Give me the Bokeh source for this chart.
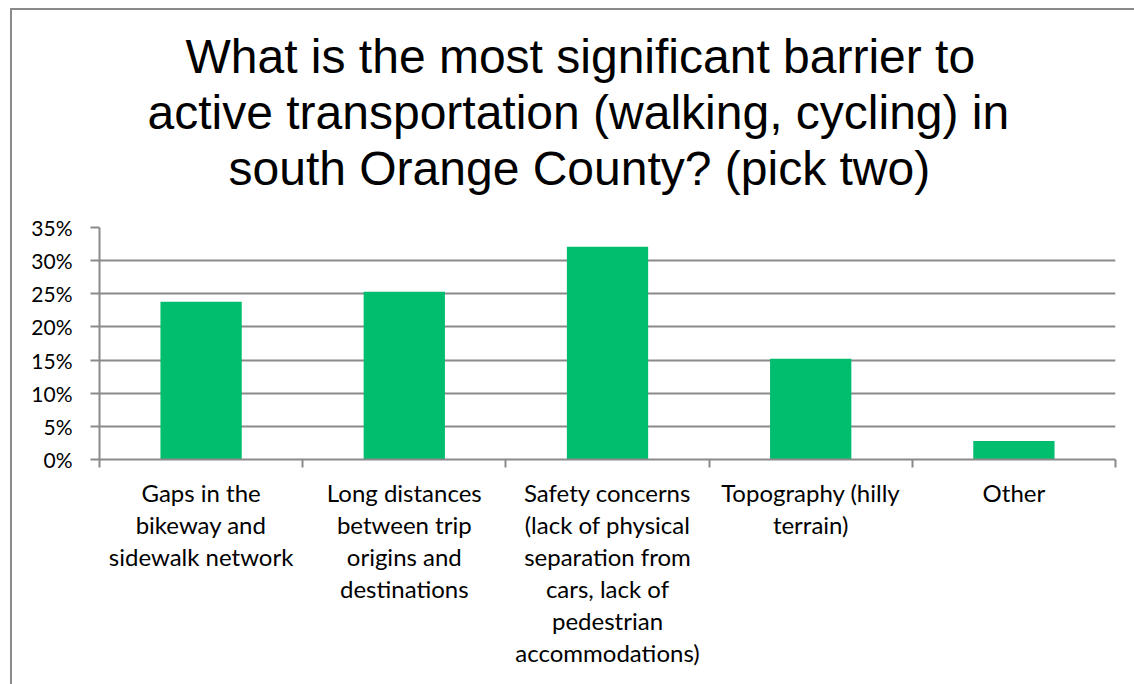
from bokeh.plotting import figure
from bokeh.models import Range1d, FixedTicker, NumeralTickFormatter, Title
from bokeh.embed import file_html
from bokeh.resources import INLINE

# ---- data ----
categories = [
    "Gaps in the\nbikeway and\nsidewalk network",
    "Long distances\nbetween trip\norigins and\ndestinations",
    "Safety concerns\n(lack of physical\nseparation from\ncars, lack of\npedestrian\naccommodations)",
    "Topography (hilly\nterrain)",
    "Other",
]
values = [0.238, 0.253, 0.321, 0.152, 0.028]
y_ticks = [0, 0.05, 0.10, 0.15, 0.20, 0.25, 0.30, 0.35]
title_lines = [
    "What is the most significant barrier to",
    "active transportation (walking, cycling) in",
    "south Orange County? (pick two)",
]

GREEN = "#00BE6E"
GRAY = "#8a8a8a"
LABEL_FONT = "Lato"

W, H = 1134, 676
p = figure(width=W, height=H, output_backend="svg", toolbar_location=None,
           x_range=Range1d(0.5, len(categories) + 0.5), y_range=Range1d(0, 0.35),
           min_border_left=99, min_border_right=19, min_border_top=227,
           min_border_bottom=217)
p.outline_line_color = None
p.background_fill_color = "white"
p.border_fill_color = None

xs = list(range(1, len(categories) + 1))
p.vbar(x=xs, top=values, width=0.4, fill_color=GREEN, line_color=None)

# spacer between the plot area and the title block
p.add_layout(Title(text=" ", text_font_size="1px", standoff=29), "above")
# title: one Title per line, nearest the frame added first
title_left = [86, 48, 129]
for line, off in reversed(list(zip(title_lines, title_left))):
    p.add_layout(Title(text=line, align="left", offset=off, text_font="Liberation Sans",
                       text_font_size="48px", text_font_style="normal", text_color="black",
                       standoff=1), "above")

# grid
p.xgrid.grid_line_color = None
p.ygrid.grid_line_color = GRAY
p.ygrid.grid_line_width = 2
p.ygrid.ticker = FixedTicker(ticks=y_ticks)

# y axis
p.yaxis.ticker = FixedTicker(ticks=y_ticks)
p.yaxis.formatter = NumeralTickFormatter(format="0%")
p.yaxis.axis_line_color = GRAY
p.yaxis.axis_line_width = 2
p.yaxis.major_tick_line_color = GRAY
p.yaxis.major_tick_line_width = 2
p.yaxis.major_tick_out = 9
p.yaxis.major_tick_in = 0
p.yaxis.minor_tick_line_color = None
p.yaxis.major_label_standoff = 18
p.yaxis.major_label_text_font = LABEL_FONT
p.yaxis.major_label_text_font_size = "21px"
p.yaxis.major_label_text_color = "black"

# x axis: labels at category centres, tick marks at category boundaries
bounds = [i + 0.5 for i in range(0, len(categories) + 1)]
p.xaxis.ticker = FixedTicker(ticks=xs, minor_ticks=bounds)
p.xaxis.major_label_overrides = {x: c for x, c in zip(xs, categories)}
p.xaxis.axis_line_color = GRAY
p.xaxis.axis_line_width = 2
p.xaxis.major_tick_line_color = None
p.xaxis.major_tick_out = 0
p.xaxis.major_tick_in = 0
p.xaxis.minor_tick_line_color = GRAY
p.xaxis.minor_tick_line_width = 2
p.xaxis.minor_tick_out = 8
p.xaxis.minor_tick_in = 0
p.xaxis.major_label_standoff = 10
p.xaxis.major_label_text_font = LABEL_FONT
p.xaxis.major_label_text_font_size = "24px"
p.xaxis.major_label_text_color = "black"
p.xaxis.major_label_text_line_height = 1.11

# chart-area border (left and top edges), painted on the page behind the transparent border area
grad = f"linear-gradient({GRAY},{GRAY})"
page_css = ("<style>html{background:" + grad + " 10px 8px / 2px 700px no-repeat, "
            + grad + " 10px 8px / 1200px 2px no-repeat, white;}</style></head>")

open("out.html", "w").write(file_html(p, INLINE).replace("</head>", page_css, 1))
